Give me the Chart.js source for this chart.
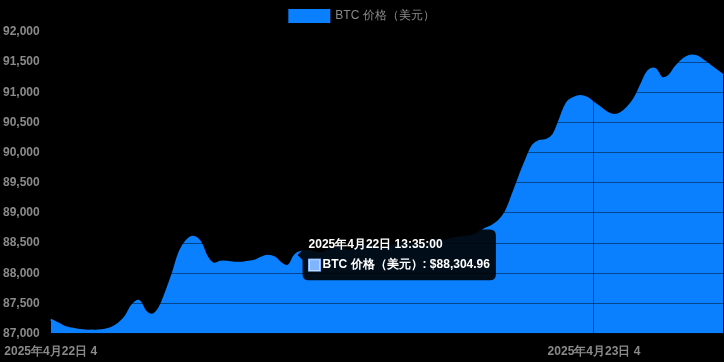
<!DOCTYPE html>
<html>
<head>
<meta charset="utf-8">
<script src="https://cdn.jsdelivr.net/npm/chart.js@4.4.1/dist/chart.umd.min.js"></script>
<style>
    html, body { margin: 0; padding: 0; background: #000; }
    #wrap { width: 724px; height: 362px; }
</style>
</head>
<body>
<div id="wrap"><canvas id="priceChart"></canvas></div>
<script>
// Sample times (15 min steps from 2025-04-22 04:35)
const times = [
    '4月22日 4:35', '4月22日 4:50', '4月22日 5:05', '4月22日 5:20', '4月22日 5:35', '4月22日 5:50', '4月22日 6:05', '4月22日 6:20', '4月22日 6:35', '4月22日 6:50',
    '4月22日 7:05', '4月22日 7:20', '4月22日 7:35', '4月22日 7:50', '4月22日 8:05', '4月22日 8:20', '4月22日 8:35', '4月22日 8:50', '4月22日 9:05', '4月22日 9:20',
    '4月22日 9:35', '4月22日 9:50', '4月22日 10:05', '4月22日 10:20', '4月22日 10:35', '4月22日 10:50', '4月22日 11:05', '4月22日 11:20', '4月22日 11:35', '4月22日 11:50',
    '4月22日 12:05', '4月22日 12:20', '4月22日 12:35', '4月22日 12:50', '4月22日 13:05', '4月22日 13:20', '4月22日 13:35', '4月22日 13:50', '4月22日 14:05', '4月22日 14:20',
    '4月22日 14:35', '4月22日 14:50', '4月22日 15:05', '4月22日 15:20', '4月22日 15:35', '4月22日 15:50', '4月22日 16:05', '4月22日 16:20', '4月22日 16:35', '4月22日 16:50',
    '4月22日 17:05', '4月22日 17:20', '4月22日 17:35', '4月22日 17:50', '4月22日 18:05', '4月22日 18:20', '4月22日 18:35', '4月22日 18:50', '4月22日 19:05', '4月22日 19:20',
    '4月22日 19:35', '4月22日 19:50', '4月22日 20:05', '4月22日 20:20', '4月22日 20:35', '4月22日 20:50', '4月22日 21:05', '4月22日 21:20', '4月22日 21:35', '4月22日 21:50',
    '4月22日 22:05', '4月22日 22:20', '4月22日 22:35', '4月22日 22:50', '4月22日 23:05', '4月22日 23:20', '4月22日 23:35', '4月22日 23:50', '4月23日 0:05', '4月23日 0:20',
    '4月23日 0:35', '4月23日 0:50', '4月23日 1:05', '4月23日 1:20', '4月23日 1:35', '4月23日 1:50', '4月23日 2:05', '4月23日 2:20', '4月23日 2:35', '4月23日 2:50',
    '4月23日 3:05', '4月23日 3:20', '4月23日 3:35', '4月23日 3:50', '4月23日 4:05', '4月23日 4:20', '4月23日 4:35', '4月23日 4:50', '4月23日 5:05', '4月23日 5:20'
];

const prices = [
    87232, 87174, 87116, 87083, 87066, 87050, 87050, 87050, 87066, 87099,
    87166, 87281, 87470, 87540, 87364, 87315, 87430, 87695, 88010, 88358,
    88540, 88606, 88523, 88275, 88159, 88192, 88192, 88175, 88175, 88192,
    88209, 88258, 88291, 88258, 88159, 88126, 88304.96, 88358, 88374, 88341,
    88341, 88391, 88424, 88407, 88374, 88407, 88457, 88457, 88424, 88407,
    88440, 88490, 88507, 88490, 88457, 88490, 88540, 88556, 88540, 88573,
    88589, 88606, 88622, 88672, 88738, 88788, 88871, 89020, 89300, 89600,
    89880, 90120, 90195, 90212, 90295, 90560, 90824, 90907, 90940, 90907,
    90824, 90742, 90659, 90626, 90659, 90758, 90907, 91139, 91354, 91387,
    91238, 91271, 91420, 91536, 91603, 91603, 91536, 91454, 91371, 91288
];

// x tick labels shown on the axis and the indices they sit on
const xTickIndex = [0, 80];
const xTickText = ['2025年4月22日 4', '2025年4月23日 4'];

const yMin = 87000;
const yMax = 92000;
const yStep = 500;

const seriesLabel = 'BTC 价格（美元）';
const hoverIndex = 36;

const blue = '#0a80ff';

const ctx = document.getElementById('priceChart').getContext('2d');

const priceChart = new Chart(ctx, {
    type: 'line',
    data: {
        labels: times.map(t => '2025年' + t + ':00'),
        datasets: [{
            label: seriesLabel,
            data: prices,
            borderColor: blue,
            backgroundColor: blue,
            borderWidth: 2,
            fill: 'start',
            tension: 0.4,
            pointRadius: 0,
            pointHoverRadius: 0
        }]
    },
    options: {
        responsive: true,
        maintainAspectRatio: false,
        animation: false,
        locale: 'en-US',
        interaction: { mode: 'index', intersect: false },
        plugins: {
            legend: {
                labels: {
                    color: '#8a8a8a',
                    boxWidth: 40,
                    font: { size: 12 }
                }
            },
            tooltip: {
                backgroundColor: 'rgba(0,0,0,0.9)',
                cornerRadius: 6,
                padding: { left: 6, right: 6, top: 8, bottom: 8 },
                titleFont: { size: 12, weight: 'bold' },
                bodyFont: { size: 12, weight: 'bold' },
                callbacks: {
                    label: (c) => c.dataset.label + ': $' +
                        c.parsed.y.toLocaleString('en-US', { minimumFractionDigits: 2, maximumFractionDigits: 2 }),
                    labelColor: () => ({ borderColor: '#80b4ff', backgroundColor: '#80b4ff' })
                }
            }
        },
        scales: {
            x: {
                border: { display: false },
                grid: {
                    z: 1,
                    color: (c) => c.index === 0 ? 'rgba(0,0,0,0)' : 'rgba(0,0,0,0.45)'
                },
                ticks: {
                    autoSkip: false,
                    maxRotation: 0,
                    color: '#8a8a8a',
                    font: { size: 12, weight: 'bold' },
                    callback: (value, index) => {
                        const k = xTickIndex.indexOf(index);
                        return k === -1 ? null : xTickText[k];
                    }
                }
            },
            y: {
                min: yMin,
                max: yMax,
                border: { display: false },
                grid: { z: 1, color: 'rgba(0,0,0,0.45)' },
                ticks: {
                    stepSize: yStep,
                    color: '#8a8a8a',
                    font: { size: 12, weight: 'bold' }
                }
            }
        }
    }
});

// show the hover tooltip like in the screenshot
const meta = priceChart.getDatasetMeta(0);
const pt = meta.data[hoverIndex];
priceChart.tooltip.setActiveElements([{ datasetIndex: 0, index: hoverIndex }], { x: pt.x, y: pt.y });
priceChart.update();
</script>
</body>
</html>
